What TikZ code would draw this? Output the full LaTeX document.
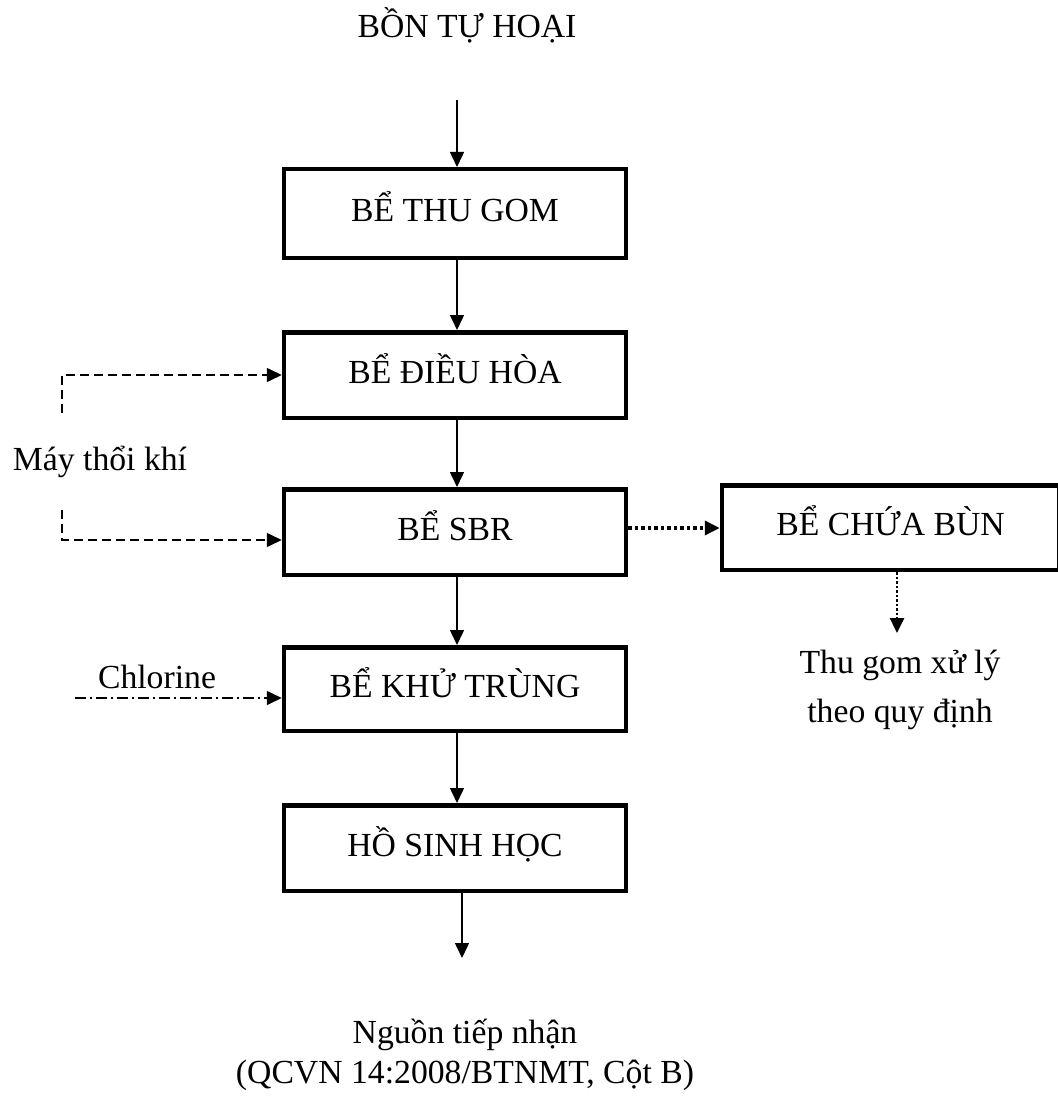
\documentclass[tikz,border=0pt]{standalone}
\usepackage{fontspec}
\setmainfont{Liberation Serif}
\usetikzlibrary{arrows.meta}
\begin{document}
\begin{tikzpicture}[x=1pt,y=-1pt,
  every node/.style={font=\fontsize{33.7}{40}\selectfont, inner sep=0pt},
  box/.style={draw, line width=4.5pt, minimum width=342pt, minimum height=85.5pt, text height=22pt, text depth=6pt},
  arr/.style={line width=1.5pt, -{Triangle[length=15pt,width=14pt]}},
  airline/.style={line width=1.6pt, dash pattern=on 9pt off 5pt, -{Triangle[length=15pt,width=14pt]}},
  chlline/.style={line width=1.6pt, dash pattern=on 11pt off 4pt on 2pt off 4pt, -{Triangle[length=15pt,width=14pt]}},
  sludgeline/.style={line width=3.5pt, dash pattern=on 3.5pt off 3pt, -{Triangle[length=15pt,width=14pt]}},
  wasteline/.style={line width=2.5pt, dash pattern=on 2.5pt off 2pt, -{Triangle[length=15pt,width=14pt]}},
  label/.style={anchor=base}]
\useasboundingbox (0,0) rectangle (1057,1099);

\node[label] (title) at (467,38) {BỒN TỰ HOẠI};

\node[box, minimum height=88.5pt] (thugom) at (455,213.5) {BỂ THU GOM};
\node[box] (dieuhoa) at (455,375) {BỂ ĐIỀU HÒA};
\node[box] (sbr) at (455,532) {BỂ SBR};
\node[box, minimum height=83.5pt] (khutrung) at (455,689) {BỂ KHỬ TRÙNG};
\node[box] (ho) at (455,848) {HỒ SINH HỌC};
\node[box, minimum width=337pt, minimum height=84.5pt] (chuabun) at (890.5,527.5) {BỂ CHỨA BÙN};

\node[label] (may) at (100,470) {Máy thổi khí};
\node[label] (chl) at (157,688) {Chlorine};
\node[label, align=center, font=\fontsize{33.7}{49}\selectfont] (thu) at (900,722) {Thu gom xử lý\\theo quy định};
\node[label, align=center, font=\fontsize{33.7}{40}\selectfont] (nguon) at (465,1083) {Nguồn tiếp nhận\\(QCVN 14:2008/BTNMT, Cột B)};

\coordinate (ax) at (457,0);
\coordinate (t0) at (457,100);
\coordinate (out) at (462,958);
\coordinate (a1) at (62,413);
\coordinate (a2) at (62,510);
\coordinate (c0) at (75,698);
\coordinate (s1) at ([yshift=4pt]sbr.east);
\coordinate (a2e) at ([yshift=-8pt]sbr.west);
\coordinate (cb1) at (897,633);

\draw[arr] (t0) -- (t0 |- thugom.north);
\draw[arr] (thugom.south -| ax) -- (dieuhoa.north -| ax);
\draw[arr] (dieuhoa.south -| ax) -- (sbr.north -| ax);
\draw[arr] (sbr.south -| ax) -- (khutrung.north -| ax);
\draw[arr] (khutrung.south -| ax) -- (ho.north -| ax);
\draw[arr] (ho.south -| out) -- (out);

\draw[airline] (a1) |- (dieuhoa.west);
\draw[airline] (a2) |- (a2e);
\draw[chlline] (c0) -- (c0 -| khutrung.west);
\draw[sludgeline] (s1) -- (s1 -| chuabun.west);
\draw[wasteline] (cb1 |- chuabun.south) -- (cb1);
\end{tikzpicture}
\end{document}
